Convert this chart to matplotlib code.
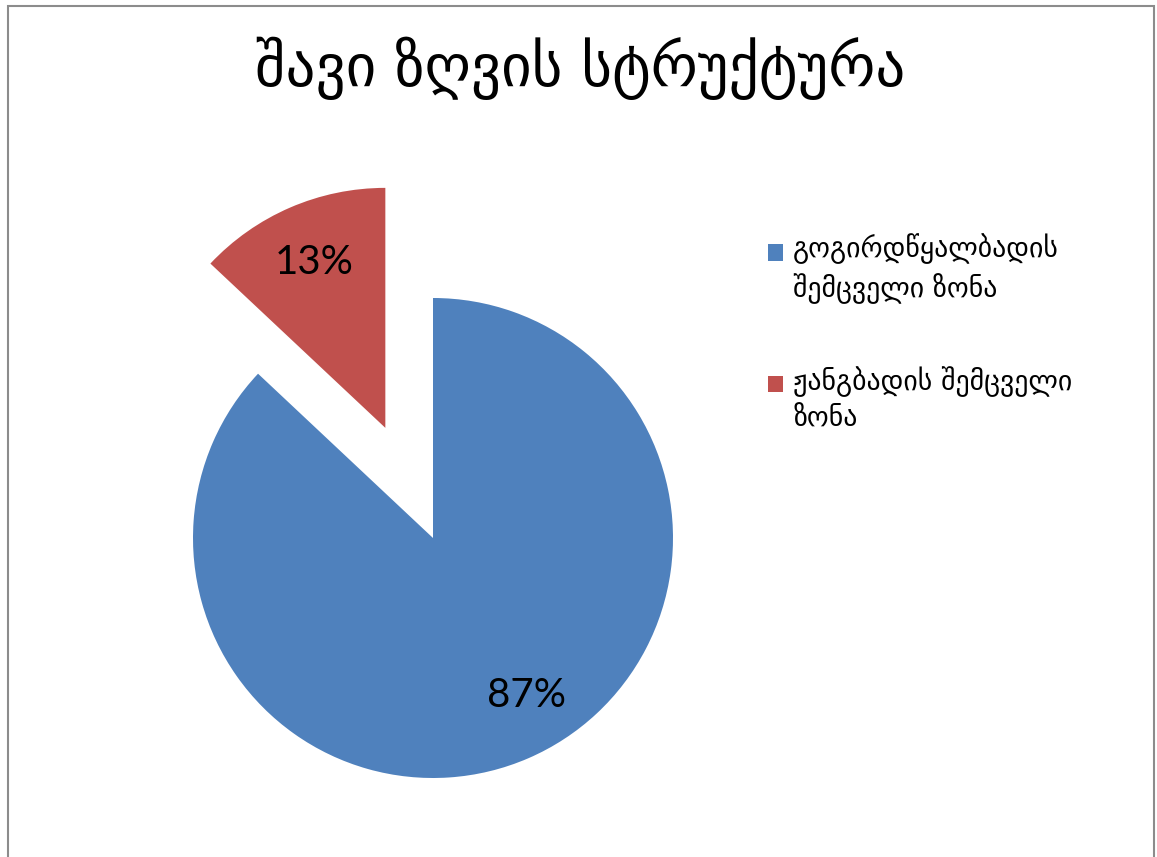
import matplotlib
matplotlib.use("Agg")
import matplotlib.pyplot as plt
from matplotlib.patches import Rectangle, Patch

title = "შავი ზღვის სტრუქტურა"
labels = ["გოგირდწყალბადის\nშემცველი ზონა", "ჟანგბადის შემცველი\nზონა"]
values = [87, 13]
colors = ["#4F81BD", "#C0504D"]
explode_frac = [0, 0.5]

W, H = 1157, 857
R = 240
fig = plt.figure(figsize=(W / 100, H / 100), dpi=100)
ax = fig.add_axes([0, 0, 1, 1])

# border
fig.patches.append(Rectangle((8 / W, -0.05), (1154 - 8) / W, (H - 6) / H + 0.05,
                             transform=fig.transFigure, fill=False,
                             edgecolor="#8c8c8c", linewidth=1.5))

wedges, texts, autotexts = ax.pie(values, colors=colors,
                                  explode=[e * R for e in explode_frac],
                                  startangle=90, counterclock=False,
                                  center=(433, H - 538), radius=R,
                                  autopct="%1.0f%%", pctdistance=0.75,
                                  textprops=dict(fontsize=29, family="Lato", color="black"),
                                  frame=True)
ax.set_xlim(0, W)
ax.set_ylim(0, H)
ax.set_aspect("equal")
ax.axis("off")

# nudge the big-slice label like the original
x0, y0 = autotexts[0].get_position()
autotexts[0].set_position((x0 + 22, y0 + 8))

fig.text(580 / W, 1 - 68 / H, title, ha="center", va="center", fontsize=42.5,
         family="DejaVu Sans")

handles = [Patch(facecolor=c, edgecolor="none") for c in colors]
leg = fig.legend(handles, labels, loc="upper left",
                 bbox_to_anchor=(743 / W, 1 - 208 / H), frameon=False,
                 prop=dict(family="DejaVu Sans", size=20), handlelength=0.55,
                 handleheight=0.55, handletextpad=0.35, labelspacing=2.25)
for t in leg.get_texts():
    t.set_linespacing(1.37)
# align the colour squares with the first text line
for h in leg.legend_handles:
    h.set_y(h.get_y() + 12)

fig.savefig("out.png", dpi=100)
